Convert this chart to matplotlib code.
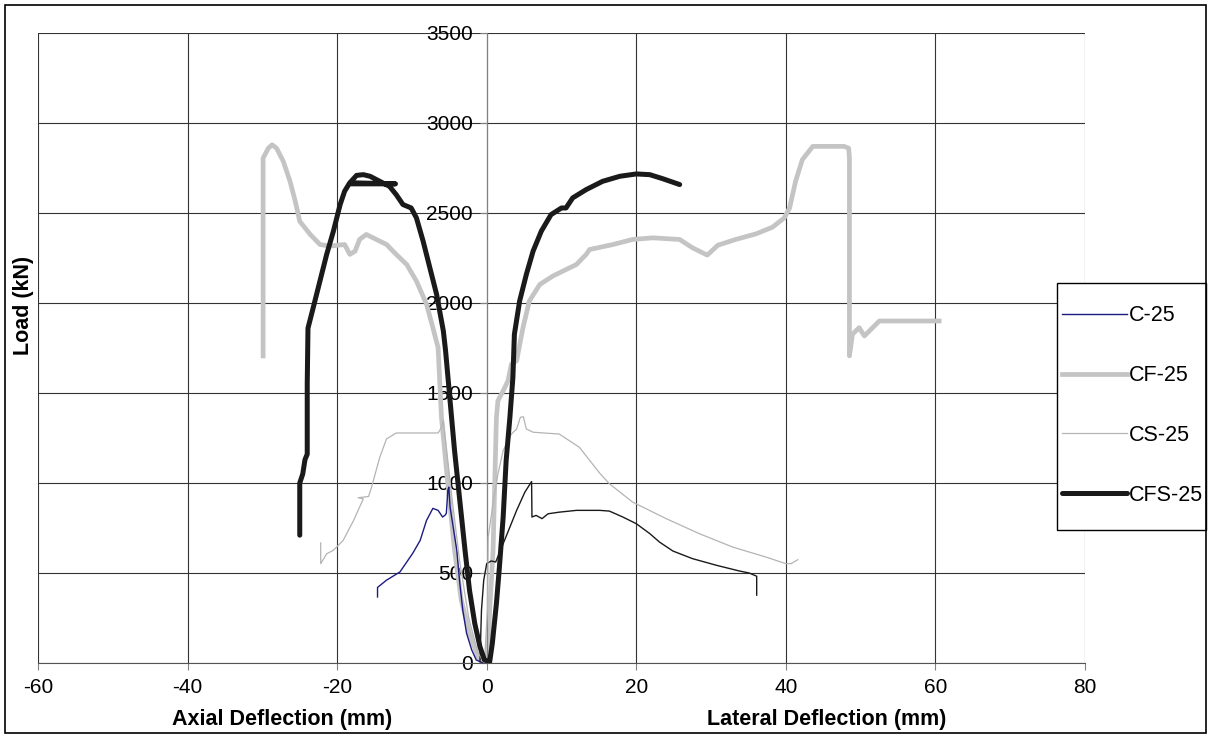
import matplotlib.pyplot as plt
from matplotlib.patches import Rectangle

plt.rcParams['font.family'] = ['Liberation Sans', 'DejaVu Sans']
plt.rcParams['axes.unicode_minus'] = False

# C-25 (axial side, navy)
c25_x = [-14.6, -14.6, -13.4, -11.6, -9.9, -8.9, -8.05, -7.2, -6.5, -5.9, -5.6, -5.4, -5.2, -5.07,
         -4.9, -4.0, -3.6, -3.2, -2.7, -2.0, -1.4, -0.5]
c25_y = [367, 420, 460, 506, 609, 681, 792, 859, 848, 811, 820, 831, 958, 977,
         866, 626, 443, 294, 166, 72, 17, 0]

# C-25 (lateral side, drawn black)
c25l_x = [-0.9, -0.7, -0.4, 0.0, 0.6, 1.2, 2.2, 3.1, 4.0, 5.1, 6.0, 6.05, 6.6, 7.4, 8.2, 9.7, 12.0,
          15.1, 16.4, 18.2, 20.0, 21.8, 23.1, 24.9, 27.5, 30.7, 33.8, 35.1, 36.1, 36.1]
c25l_y = [7, 294, 460, 552, 567, 561, 663, 755, 848, 949, 1008, 811, 820, 802, 829, 838, 848,
          848, 844, 811, 774, 719, 672, 622, 580, 543, 511, 500, 482, 377]

# CF-25
cf25_x = [-29.9, -29.9, -29.2, -28.7, -28.1, -27.2, -26.3, -25.6, -25.0, -23.6, -22.3, -21.0, -19.0,
          -18.3, -17.6, -17.0, -16.1, -15.2, -13.4, -12.1, -10.7, -9.4, -8.05, -7.2, -6.5, -6.05,
          -5.2, -4.3, -3.4, -2.3, -1.2, -0.3, 0.2, 0.4, 0.85, 1.07, 1.3, 1.5, 2.2, 2.85, 3.3, 4.0,
          4.85, 5.7, 7.1, 8.85, 12.0, 13.3, 13.75, 16.9, 19.5, 22.2, 25.8, 27.5, 29.5, 30.9, 33.3,
          36.0, 38.2, 39.8, 40.5, 41.3, 42.2, 43.6, 47.8, 48.4, 48.5, 48.5, 48.9, 49.8, 50.5, 52.5,
          60.5]
cf25_y = [1706, 2805, 2860, 2879, 2860, 2787, 2676, 2565, 2454, 2381, 2325, 2316, 2325,
          2270, 2288, 2353, 2381, 2362, 2325, 2270, 2214, 2122, 1993, 1863, 1752, 1365,
          996, 626, 349, 165, 35, 0, 72, 294, 626, 996, 1365, 1457, 1512, 1568, 1660, 1679,
          1863, 2011, 2103, 2150, 2214, 2270, 2297, 2325, 2353, 2362, 2353, 2307, 2266, 2321, 2353,
          2384, 2421, 2473, 2528, 2676, 2796, 2870, 2870, 2860, 2805, 1706, 1826, 1863, 1817, 1900,
          1900]

# CS-25
cs25_x = [-22.2, -22.2, -21.4, -20.5, -19.2, -17.8, -17.0, -16.5, -17.2, -15.8, -15.4, -14.3, -13.4,
          -12.1, -6.5, -6.05, -5.8, -5.4, -4.6, -3.6, -2.4, -1.2, -0.3, 0.1, 0.2, 0.85, 1.5, 2.2,
          3.3, 4.0, 4.5, 4.9, 5.3, 6.2, 9.7, 12.4, 15.1, 16.4, 19.5, 24.0, 28.4, 32.9, 37.3, 40.0,
          40.7, 41.6]
cs25_y = [667, 552, 607, 626, 681, 792, 866, 912, 918, 925, 977, 1143, 1245,
          1278, 1278, 1309, 1346, 1198, 900, 560, 250, 60, 0, 300, 700, 885, 1050, 1180,
          1272, 1300, 1365, 1368, 1300, 1282, 1272, 1198, 1055, 996, 894, 802, 719, 644, 589, 552,
          552, 574]

# CFS-25
cfs25_x = [-25.0, -25.0, -24.6, -24.3, -24.0, -24.0, -23.9, -23.2, -22.3, -21.4, -20.5, -19.6, -19.0,
           -18.4, -12.2, -18.3, -17.4, -16.5, -15.6, -14.3, -13.0, -12.1, -11.2, -10.1, -9.4, -8.5,
           -7.6, -6.7, -5.8, -5.5, -4.9, -4.3, -3.6, -2.9, -2.3, -1.6, -0.9, -0.3, 0.4, 0.75, 1.3,
           1.7, 2.2, 2.6, 3.1, 3.5, 3.7, 4.4, 5.3, 6.2, 7.3, 8.6, 10.0, 10.6, 11.5, 13.3, 15.5,
           17.8, 20.0, 21.8, 23.5, 25.8]
cfs25_y = [710, 1000, 1050, 1130, 1160, 1550, 1860, 1974, 2122, 2270, 2399, 2547, 2621,
           2662, 2662, 2668, 2709, 2713, 2704, 2676, 2648, 2602, 2547, 2528, 2473, 2343,
           2195, 2048, 1845, 1734, 1457, 1180, 903, 626, 404, 220, 90, 17, 7, 109, 331,
           534, 811, 1125, 1365, 1586, 1826, 2011, 2159, 2288, 2399, 2491, 2528, 2528, 2584, 2630, 2676,
           2704, 2717, 2713, 2691, 2658]

fig = plt.figure(figsize=(12.14, 7.38), dpi=100)
ax = fig.add_axes([38 / 1214, 75 / 738, 1047 / 1214, 630 / 738])

l1, = ax.plot(c25_x, c25_y, color='#1c1c80', lw=1.0, zorder=3)
ax.plot(c25l_x, c25l_y, color='#1a1a1a', lw=1.0, zorder=3)
l2, = ax.plot(cf25_x, cf25_y, color='#c4c4c4', lw=3.4, zorder=2)
l3, = ax.plot(cs25_x, cs25_y, color='#b4b4b4', lw=0.9, zorder=3)
l4, = ax.plot(cfs25_x, cfs25_y, color='#1a1a1a', lw=3.6, zorder=4, solid_capstyle='round')

ax.set_xlim(-60, 80)
ax.set_ylim(0, 3500)
ax.set_xticks(range(-60, 81, 20))
ax.set_yticks(range(0, 3501, 500))
ax.grid(True, color='#333333', lw=0.8)
ax.set_axisbelow(True)

ax.spines['left'].set_position(('data', 0))
ax.spines['left'].set_color('#808080')
ax.spines['bottom'].set_color('#555555')
ax.spines['top'].set_visible(False)
ax.spines['right'].set_visible(False)
ax.tick_params(axis='y', direction='out', length=5, pad=5, labelsize=15, color='#808080')
ax.tick_params(axis='x', direction='out', length=5, pad=6, labelsize=15, color='#808080')

fig.text(282 / 1214, 1 - 719 / 738, 'Axial Deflection (mm)', ha='center', va='center',
         fontsize=15.5, fontweight='bold')
fig.text(827 / 1214, 1 - 719 / 738, 'Lateral Deflection (mm)', ha='center', va='center',
         fontsize=15.5, fontweight='bold')
fig.text(24 / 1214, 1 - 305 / 738, 'Load (kN)', ha='center', va='center', rotation=90,
         fontsize=15.5, fontweight='bold')

# legend box and frame
fig.patches.append(Rectangle((1057 / 1214, 1 - 530 / 738), 149 / 1214, 247 / 738,
                             transform=fig.transFigure, facecolor='white',
                             edgecolor='black', lw=1, zorder=3))
fig.patches.append(Rectangle((5 / 1214, 5 / 738), 1201 / 1214, 728 / 738,
                             transform=fig.transFigure, facecolor='none',
                             edgecolor='black', lw=1.2, zorder=3))
leg = fig.legend([l1, l2, l3, l4], ['C-25', 'CF-25', 'CS-25', 'CFS-25'],
                 loc='center left', bbox_to_anchor=(1062 / 1214, 1 - 405.5 / 738),
                 frameon=False, fontsize=15.5, handlelength=3.0, handletextpad=0.1,
                 labelspacing=1.8, borderpad=0, borderaxespad=0)
leg.set_zorder(5)

plt.savefig('out.png', dpi=100)
